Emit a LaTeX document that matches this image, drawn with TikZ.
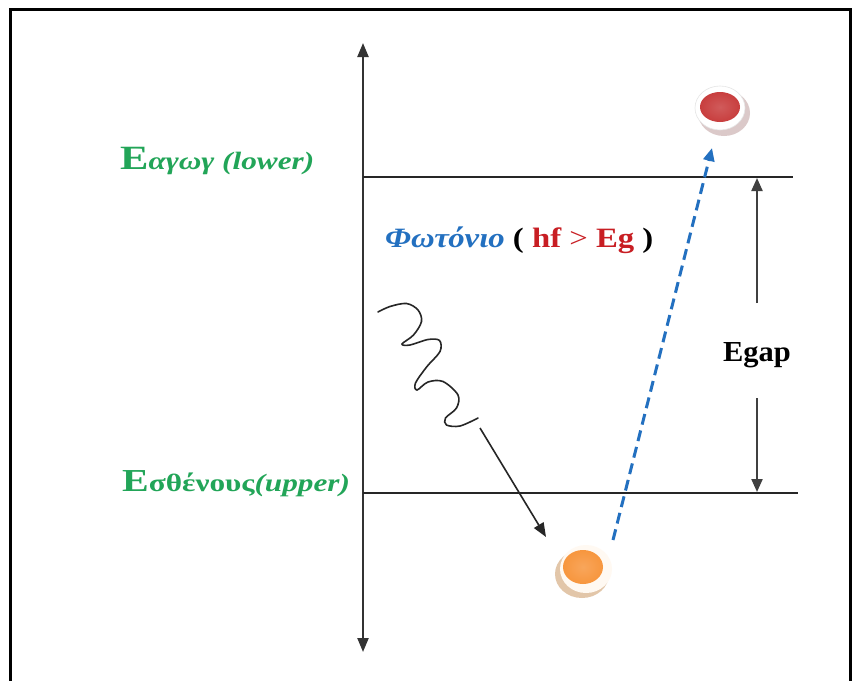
\documentclass[tikz,border=0pt]{standalone}
\usepackage{fontspec}
\usepackage{graphicx}
\setmainfont{Liberation Serif}
\usetikzlibrary{arrows.meta,shapes.geometric}
\definecolor{lblgreen}{RGB}{34,165,88}
\definecolor{phblue}{RGB}{35,112,192}
\definecolor{hfred}{RGB}{200,30,35}
\definecolor{discred}{RGB}{200,62,62}
\definecolor{discorange}{RGB}{247,150,62}
\begin{document}
\begin{tikzpicture}[x=1pt,y=-1pt,
  axisline/.style={draw=black!80,line width=2.2pt,{Triangle[length=14pt,width=11pt]}-{Triangle[length=14pt,width=11pt]}},
  levelline/.style={draw=black!85,line width=1.6pt},
  gaparrow/.style={draw=black!75,line width=2.2pt,-{Triangle[length=13pt,width=11pt]}},
  photonarrow/.style={draw=phblue,line width=3pt,dash pattern=on 11pt off 6pt,-{Triangle[length=13pt,width=11pt]}},
  wave/.style={draw=black!85,line width=1.6pt,line cap=round},
  hitarrow/.style={draw=black!85,line width=1.6pt,-{Triangle[length=14pt,width=11pt]}},
  lbl/.style={inner sep=0pt,anchor=base west}]
\useasboundingbox (0,0) rectangle (853,680);
\fill[white] (0,0) rectangle (853,680);
% frame
\draw[black,line width=3pt] (10,9) rectangle (850,700);

% energy axis
\coordinate (axtop) at (363,43);
\coordinate (axbot) at (363,652);
\draw[axisline] (axbot) -- (axtop);

% levels
\coordinate (l1a) at (363,177);
\coordinate (l1b) at (793,177);
\coordinate (l2a) at (363,493);
\coordinate (l2b) at (798,493);
\draw[levelline] (l1a) -- (l1b);
\draw[levelline] (l2a) -- (l2b);

% labels (text is horizontally stretched in the reference)
\node[lbl] (lower) at (120,169) {\scalebox{1.25}[1]{\color{lblgreen}\bfseries{\fontsize{34}{34}\selectfont E}{\fontsize{25}{25}\selectfont\itshape αγωγ (lower)}}};
\node[lbl] (upper) at (122,491) {\scalebox{1.25}[1]{\color{lblgreen}\bfseries{\fontsize{32}{32}\selectfont E}{\fontsize{25}{25}\selectfont σθένους{\itshape (upper)}}}};
\node[lbl] (photon) at (385,247) {\scalebox{1.17}[1]{\fontsize{28}{28}\selectfont{\color{phblue}\bfseries\itshape Φωτόνιο} {\bfseries (} {\color{hfred}\bfseries hf} {\color{hfred}>} {\color{hfred}\bfseries Eg} {\bfseries )}}};

% Egap
\node[inner sep=0pt] (egap) at (757,355) {\scalebox{1.05}[1]{\fontsize{29}{29}\selectfont\bfseries Egap}};
\coordinate (g1s) at (757,303);
\coordinate (g1e) at (757,178);
\coordinate (g2s) at (757,398);
\coordinate (g2e) at (757,492);
\draw[gaparrow] (g1s) -- (g1e);
\draw[gaparrow] (g2s) -- (g2e);

% electron (red)
\fill[red!20!gray!35] (724,113) ellipse [x radius=26pt,y radius=23pt];
\fill[white] (720,108) ellipse [x radius=25pt,y radius=22pt];
\draw[gray!20,line width=0.6pt] (720,108) ellipse [x radius=25pt,y radius=22pt];
\shade[inner color=discred!85!white,outer color=discred] (720,107) ellipse [x radius=20pt,y radius=15pt];
\coordinate (elec) at (712,148);

% hole (orange)
\fill[brown!45!white] (582,574) ellipse [x radius=27pt,y radius=24pt];
\fill[white!95!orange] (586,569) ellipse [x radius=26pt,y radius=24pt];
\shade[inner color=discorange!85!white,outer color=discorange] (583,567) ellipse [x radius=20pt,y radius=17pt];
\coordinate (holetop) at (613,540);

% photon transition
\draw[photonarrow] (holetop) -- (elec);

% incoming photon wave
\draw[wave] plot[smooth,tension=0.55] coordinates {
 (378,312) (390,306.5) (406.5,303.5) (418,310) (421.5,321.5) (413.5,335) (402,344)
 (410,345) (428,339.5) (439.5,340.5) (440,351.5) (427,366.5) (415.5,383) (417,390)
 (428,382) (443,381.5) (458,395) (456.5,408) (445.5,418) (446.5,425) (460,426) (478,418)};
\coordinate (hs) at (480,428);
\coordinate (he) at (546,537);
\draw[hitarrow] (hs) -- (he);
\end{tikzpicture}
\end{document}
